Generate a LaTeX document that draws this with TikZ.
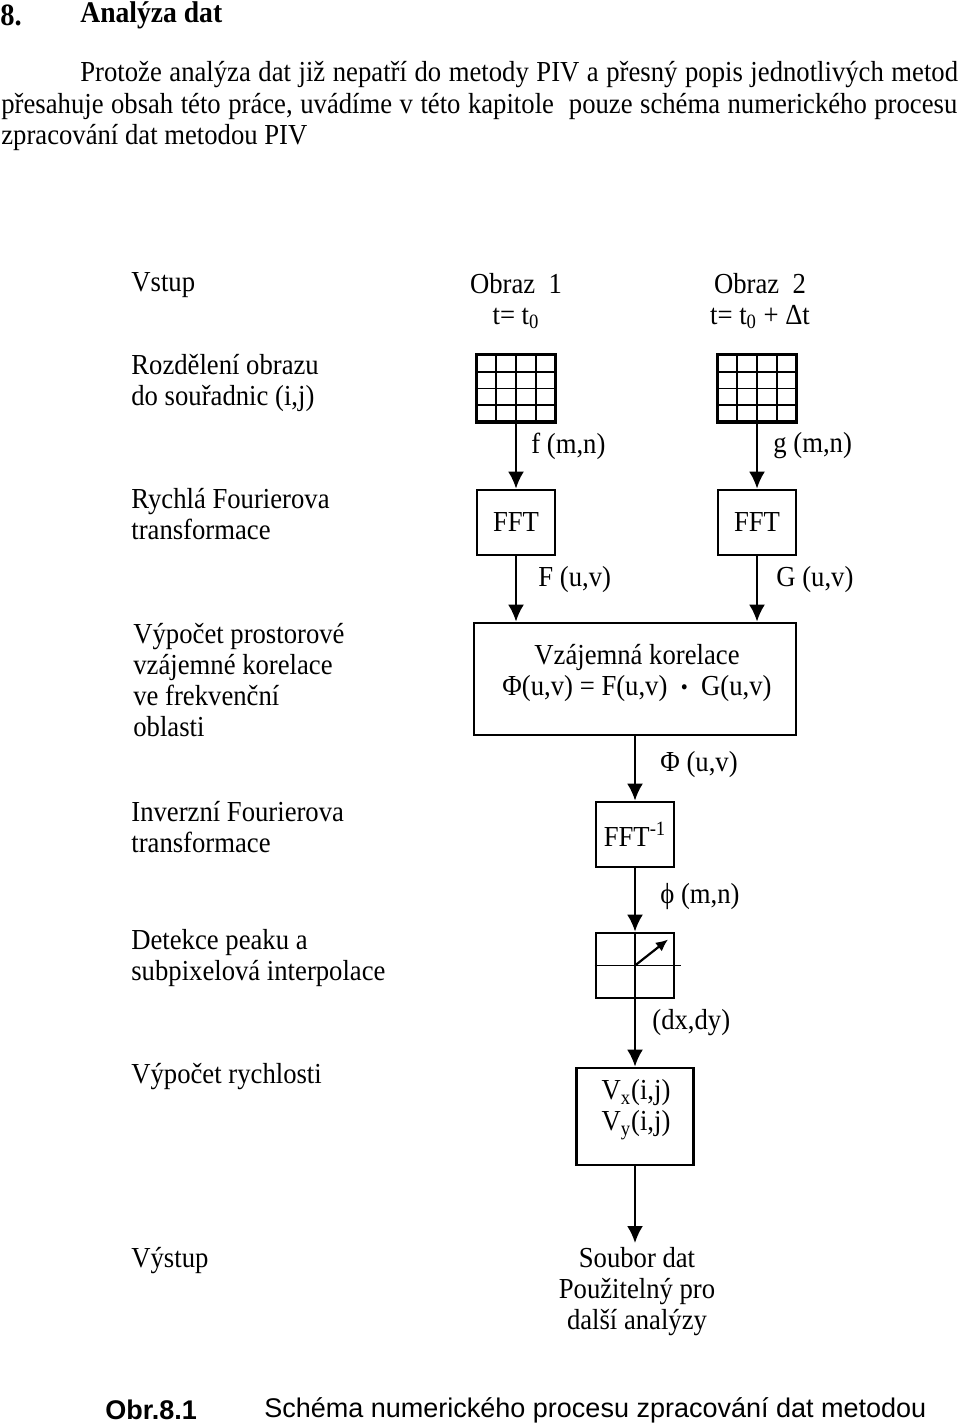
\documentclass[tikz,border=0pt]{standalone}
\usepackage{fontspec}
\setmainfont{Liberation Serif}
\newfontfamily\capfont{Liberation Sans}
\usetikzlibrary{positioning, arrows.meta}

\begin{document}
\begin{tikzpicture}[x=0.5pt, y=-0.5pt,
    >={Latex[length=8.5pt, width=8pt]},
    every node/.style={font=\fontsize{14.5}{15.5}\selectfont, inner sep=0pt},
    txt/.style={xscale=0.92},
    box/.style={draw, line width=1.4pt, minimum width=39pt, minimum height=32.5pt},
    raster/.style={draw, line width=1.5pt, minimum width=39.5pt, minimum height=33.5pt},
    flow/.style={->, line width=1.1pt},
    lbl/.style={txt, anchor=west, align=left}]
      \useasboundingbox (0,0) rectangle (960,1427);
      % heading and text
      \node[txt, anchor=west, font=\fontsize{15.5}{16}\selectfont\bfseries] (cislo) at (0,15) {8.};
      \node[txt, anchor=west, font=\fontsize{15}{16}\selectfont\bfseries] (nadpis) at (80,15) {Analýza dat};
      \node[txt, anchor=west] (radek1) at (80,75) {\hbox to 477pt{Protože analýza dat již nepatří do metody PIV a přesný popis jednotlivých metod}};
      \node[txt, anchor=west] (radek2) at (1,107) {\hbox to 519.5pt{přesahuje obsah této práce, uvádíme v této kapitole \ pouze schéma numerického procesu}};
      \node[txt, anchor=west] (radek3) at (1,138) {zpracování dat metodou PIV};
      % left column
      \node[lbl] (vstup) at (131,285) {Vstup};
      \node[lbl] (rozdel) at (131,382.5) {Rozdělení obrazu\\do souřadnic (i,j)};
      \node[lbl] (rychla) at (131,514.5) {Rychlá Fourierova\\transformace};
      \node[lbl] (vzajem) at (133,680) {Výpočet prostorové\\vzájemné korelace\\ve frekvenční\\oblasti};
      \node[lbl] (inverz) at (131,827) {Inverzní Fourierova\\transformace};
      \node[lbl] (detekce) at (131,958.5) {Detekce peaku a\\subpixelová interpolace};
      \node[lbl] (rychlost) at (131,1077) {Výpočet rychlosti};
      \node[lbl] (vystup) at (131,1261) {Výstup};
      % images
      \node[txt, align=center] (obraz1) at (516,301) {Obraz\ \ 1\\t= t\textsubscript{0}};
      \node[txt, align=center] (obraz2) at (760,301) {Obraz\ \ 2\\t= t\textsubscript{0} + Δt};
      \node[raster] (mrizka1) at (516,388.5) {};
      \node[raster] (mrizka2) at (757,388.5) {};
      \foreach \gx in {476.5,717.5} {
        \foreach \k in {1,2,3} {
          \draw[line width=0.8pt] (\gx+19.75*\k,355) -- (\gx+19.75*\k,422);
          \draw[line width=0.8pt] (\gx,355+16.75*\k) -- (\gx+79,355+16.75*\k);
        }
      }
      \node[box] (fft1) at (516,522.5) {};
      \node[txt] (fft1t) at (fft1) {FFT};
      \node[box] (fft2) at (757,522.5) {};
      \node[txt] (fft2t) at (fft2) {FFT};
      \node[box, minimum width=161pt, minimum height=56pt] (korel) at (635,679) {};
      \node[txt, align=center] (kortext) at (637,673) {Vzájemná korelace\\Φ(u,v) = F(u,v)\ \ \raisebox{0.5pt}{\scalebox{0.75}{•}}\ \ G(u,v)};
      \node[box] (fftinv) at (635,834.5) {};
      \node[txt] (fftinvt) at (fftinv) {FFT\textsuperscript{-1}};
      \node[box] (peak) at (635,965.5) {};
      \node[box, minimum width=58.5pt, minimum height=48.5pt] (rychl) at (635,1116.5) {};
      \node[txt, align=center] (vtext) at (636,1109.5) {V\textsubscript{x}(i,j)\\V\textsubscript{y}(i,j)};
      \coordinate (konec) at (635,1243);
      \node[txt, align=center] (soubor) at (637,1292) {Soubor dat\\Použitelný pro\\další analýzy};
      % peak detail
      \draw[line width=0.8pt] (peak.north) -- (peak.south);
      \draw[line width=0.8pt] (peak.west) -- ([xshift=3pt]peak.east);
      \draw[->, >={Latex[length=6pt, width=5.5pt]}, line width=1.1pt] (peak.center) -- ++(33,-26);
      % arrows
      \draw[flow] (mrizka1) -- (fft1);
      \draw[flow] (mrizka2) -- (fft2);
      \draw[flow] (fft1) -- (fft1 |- korel.north);
      \draw[flow] (fft2) -- (fft2 |- korel.north);
      \draw[flow] (korel) -- (fftinv);
      \draw[flow] (fftinv) -- (peak);
      \draw[flow] (peak) -- (peak |- rychl.north);
      \draw[flow] (rychl) -- (konec);
      % labels
      \node[lbl] (fmn) at (531,446) {f (m,n)};
      \node[lbl] (gmn) at (773,446) {g (m,n)};
      \node[lbl] (fuv) at (538,580) {F (u,v)};
      \node[lbl] (guv) at (776,580) {G (u,v)};
      \node[lbl] (phiuv) at (660,765) {Φ (u,v)};
      \node[lbl] (phimn) at (660,897) {ϕ (m,n)};
      \node[lbl] (dxdy) at (652,1023) {(dx,dy)};
      % caption
      \node[anchor=west, font=\capfont\fontsize{13.5}{15}\selectfont\bfseries] (obr) at (105,1410) {Obr.8.1};
      \node[anchor=west, font=\capfont\fontsize{13.5}{15}\selectfont] (popis) at (264,1410) {Schéma numerického procesu zpracování dat metodou};
\end{tikzpicture}
\end{document}
